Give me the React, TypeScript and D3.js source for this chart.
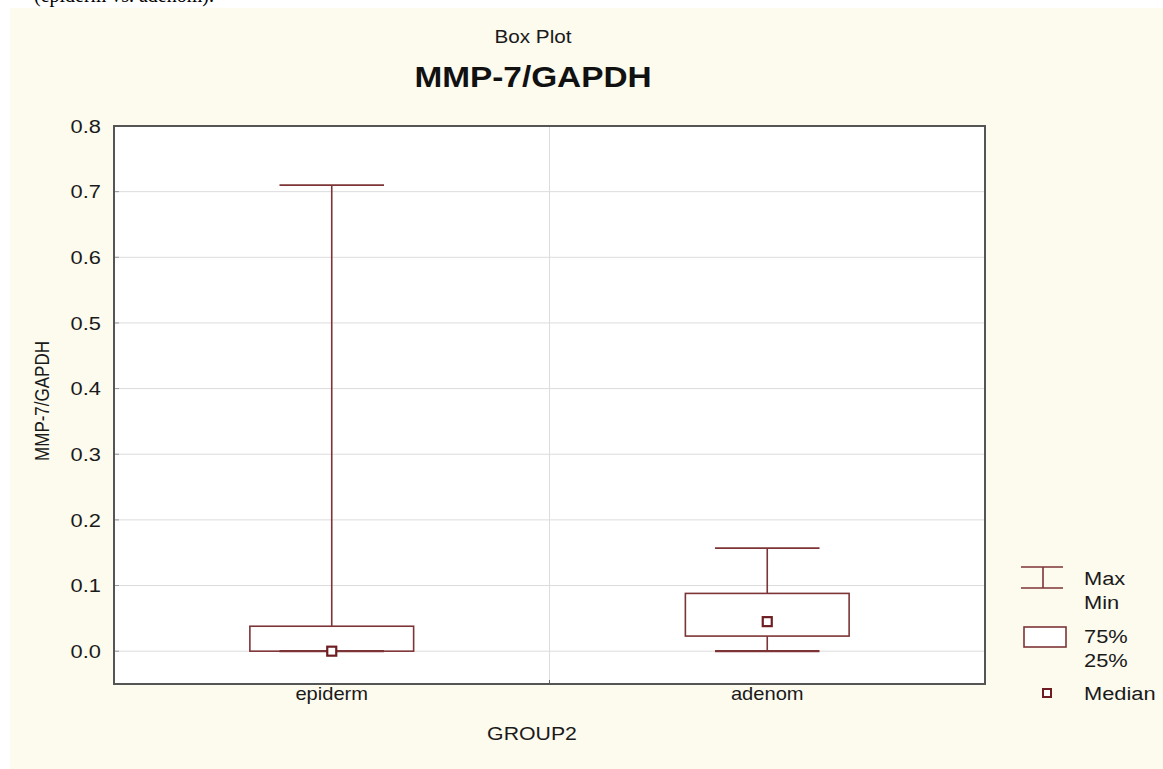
import React from "react";
import * as d3 from "d3";

// Group categories and their box-plot statistics
const groups = ["epiderm", "adenom"];
const maxValues = [0.71, 0.157];
const q75Values = [0.038, 0.088];
const medianValues = [0.0, 0.045];
const q25Values = [0.0, 0.023];
const minValues = [0.0, 0.0];

const yTicks = [0.0, 0.1, 0.2, 0.3, 0.4, 0.5, 0.6, 0.7, 0.8];

const W = 1163;
const H = 769;
const plot = { left: 114, right: 985, top: 126, bottom: 684 };

const boxColor = "#7d3436";
const font = "'Liberation Sans', Arial, sans-serif";
// the figure's lettering is slightly wider than regular Arial
const SX = 1.15;

type TProps = {
  x: number;
  y: number;
  size: number;
  anchor?: "start" | "middle" | "end";
  weight?: string;
  fill?: string;
  dy?: string;
  children: React.ReactNode;
};

function T({ x, y, size, anchor = "start", weight = "normal", fill = "#1a1a1a", dy, children }: TProps) {
  return (
    <text
      transform={`translate(${x},${y}) scale(${SX},1)`}
      textAnchor={anchor}
      fontSize={size}
      fontWeight={weight}
      fill={fill}
      dy={dy}
    >
      {children}
    </text>
  );
}

export default function App() {
  const x = d3
    .scaleBand<string>()
    .domain(groups)
    .range([plot.left, plot.right])
    .padding(0);
  const y = d3.scaleLinear().domain([-0.05, 0.8]).range([plot.bottom, plot.top]);

  const bw = x.bandwidth();
  const boxHalf = bw * 0.188;
  const capHalf = bw * 0.12;

  const stats = groups.map((g, i) => ({
    g,
    cx: (x(g) as number) + bw / 2,
    max: maxValues[i],
    q75: q75Values[i],
    med: medianValues[i],
    q25: q25Values[i],
    min: minValues[i],
  }));

  return (
    <svg
      width={W}
      height={H}
      style={{ position: "absolute", left: 0, top: 0, display: "block" }}
      fontFamily={font}
    >
      <rect x={0} y={0} width={W} height={H} fill="#ffffff" />
      {/* caption line running above the figure */}
      <text x={34} y={2} fontFamily="'Liberation Serif', 'Times New Roman', serif" fontSize={20} fill="#000">
        (epiderm vs. adenom).
      </text>
      <rect x={10} y={8} width={W - 10} height={H - 8} fill="#fdfaee" />

      {/* titles */}
      <T x={533} y={43} size={18} anchor="middle">
        Box Plot
      </T>
      <T x={533} y={87} size={29} anchor="middle" weight="bold" fill="#111">
        MMP-7/GAPDH
      </T>

      {/* plot area */}
      <rect
        x={plot.left}
        y={plot.top}
        width={plot.right - plot.left}
        height={plot.bottom - plot.top}
        fill="#ffffff"
      />

      {/* horizontal gridlines and y tick labels */}
      {yTicks.map((t) => (
        <g key={t}>
          {t < 0.8 && (
            <line
              x1={plot.left}
              x2={plot.right}
              y1={y(t)}
              y2={y(t)}
              stroke="#dcdcdc"
              strokeWidth={1}
            />
          )}
          <line x1={plot.left} x2={plot.left + 5} y1={y(t)} y2={y(t)} stroke="#999" />
          <T x={101} y={y(t)} dy="0.36em" anchor="end" size={19}>
            {t.toFixed(1)}
          </T>
        </g>
      ))}

      {/* category divider */}
      <line
        x1={plot.left + bw}
        x2={plot.left + bw}
        y1={plot.top}
        y2={plot.bottom}
        stroke="#dcdcdc"
      />
      <line
        x1={plot.left + bw}
        x2={plot.left + bw}
        y1={plot.bottom - 4}
        y2={plot.bottom}
        stroke="#666"
      />

      {/* boxes */}
      {stats.map((s) => (
        <g key={s.g} stroke={boxColor} fill="none" strokeWidth={1.6}>
          <line x1={s.cx} x2={s.cx} y1={y(s.max)} y2={y(s.q75)} />
          <line x1={s.cx} x2={s.cx} y1={y(s.q25)} y2={y(s.min)} />
          <line x1={s.cx - capHalf} x2={s.cx + capHalf} y1={y(s.max)} y2={y(s.max)} />
          <rect
            x={s.cx - boxHalf}
            y={y(s.q75)}
            width={boxHalf * 2}
            height={y(s.q25) - y(s.q75)}
            fill="#ffffff"
          />
          <line
            x1={s.cx - capHalf}
            x2={s.cx + capHalf}
            y1={y(s.min)}
            y2={y(s.min)}
            strokeWidth={2.2}
          />
          <rect
            x={s.cx - 4.5}
            y={y(s.med) - 4.5}
            width={9}
            height={9}
            fill="#ffffff"
            strokeWidth={2.2}
            stroke="#6e1e22"
          />
        </g>
      ))}

      {/* frame */}
      <rect
        x={plot.left}
        y={plot.top}
        width={plot.right - plot.left}
        height={plot.bottom - plot.top}
        fill="none"
        stroke="#555"
        strokeWidth={2}
      />

      {/* x category labels */}
      {stats.map((s) => (
        <T key={s.g} x={s.cx} y={700} anchor="middle" size={17.5}>
          {s.g}
        </T>
      ))}

      {/* axis titles */}
      <T x={532} y={740} anchor="middle" size={18.5}>
        GROUP2
      </T>
      <text
        transform={`translate(49,${(plot.top + plot.bottom) / 2 - 4}) rotate(-90) scale(1,${SX})`}
        textAnchor="middle"
        fontSize={17}
        fill="#1a1a1a"
      >
        MMP-7/GAPDH
      </text>

      {/* legend */}
      <g stroke={boxColor} fill="none" strokeWidth={1.6}>
        <line x1={1021} x2={1063} y1={567} y2={567} />
        <line x1={1043} x2={1043} y1={567} y2={588} />
        <line x1={1021} x2={1063} y1={588} y2={588} />
        <rect x={1024} y={627} width={42} height={20} fill="#ffffff" />
        <rect x={1043} y={689} width={8} height={8} fill="#ffffff" strokeWidth={2} stroke="#6e1e22" />
      </g>
      <T x={1084} y={585} size={19}>Max</T>
      <T x={1084} y={609} size={19}>Min</T>
      <T x={1084} y={643} size={19}>75%</T>
      <T x={1084} y={667} size={19}>25%</T>
      <T x={1084} y={700} size={19}>Median</T>
    </svg>
  );
}
